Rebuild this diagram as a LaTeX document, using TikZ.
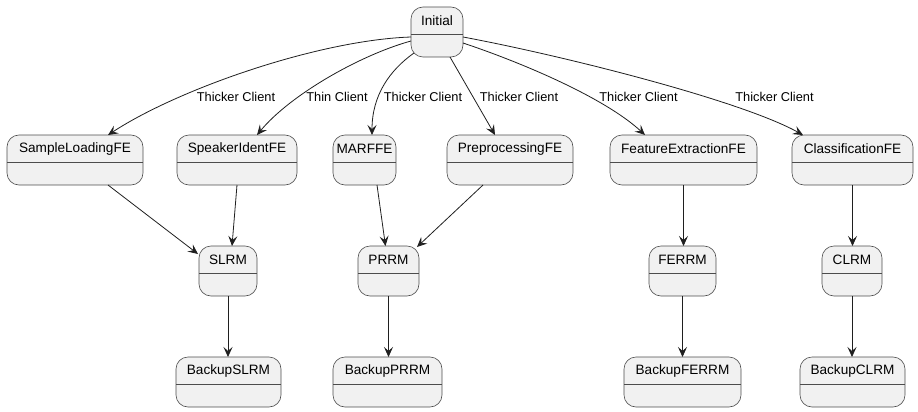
\documentclass[tikz,border=0pt]{standalone}
\usepackage{fontspec}
\setmainfont{Liberation Sans}
\usetikzlibrary{arrows.meta,calc}
\tikzset{
  st/.style={draw=black!70, fill=black!5.5, line width=0.6pt, rounded corners=12pt, inner sep=0pt, outer sep=0pt},
  stname/.style={font=\fontsize{13.6}{16}\selectfont, inner sep=0pt, anchor=center},
  divider/.style={draw=black!70, line width=0.6pt},
  edge/.style={draw=black!88, line width=0.8pt, -{Stealth[length=10pt,width=9pt,inset=4pt]}},
  elabel/.style={font=\fontsize{12.8}{15}\selectfont, inner sep=0pt},
}
\newcommand\stbox[6]{%
  \pgfmathsetmacro\stw{#4-#2}\pgfmathsetmacro\stcx{(#2+#4)/2}%
  \pgfmathsetmacro\sth{#5-#3}\pgfmathsetmacro\stcy{(#3+#5)/2}%
  \node[st, minimum width=\stw pt, minimum height=\sth pt] (#1) at (\stcx,\stcy) {};
  \draw[divider] ([yshift=-27pt]#1.north west) -- ([yshift=-27pt]#1.north east);
  \node[stname] (#1-t) at ([yshift=-13.5pt]#1.north) {#6};
}
\begin{document}
\begin{tikzpicture}[x=1pt,y=-1pt]
\useasboundingbox (0,0) rectangle (918,412);
\stbox{Initial}{411}{7}{463}{57}{Initial}
\stbox{SLFE}{7}{135}{143}{185}{SampleLoadingFE}
\stbox{SIFE}{177}{135}{297}{185}{SpeakerIdentFE}
\stbox{MARFFE}{333}{135}{396}{185}{MARFFE}
\stbox{PPFE}{447}{135}{573}{185}{PreprocessingFE}
\stbox{FEFE}{610}{135}{757}{185}{FeatureExtractionFE}
\stbox{CFE}{792}{135}{913}{185}{ClassificationFE}
\stbox{SLRM}{199}{246}{257}{296}{SLRM}
\stbox{PRRM}{358}{246}{419}{296}{PRRM}
\stbox{FERRM}{649}{246}{716}{296}{FERRM}
\stbox{CLRM}{822}{246}{882}{296}{CLRM}
\stbox{BSLRM}{176}{357}{281}{407}{BackupSLRM}
\stbox{BPRRM}{333}{357}{442}{407}{BackupPRRM}
\stbox{BFERRM}{624}{357}{741}{407}{BackupFERRM}
\stbox{BCLRM}{800}{357}{905}{407}{BackupCLRM}
% edges from Initial
\draw[edge] ($(Initial.north west)+(0,30)$) .. controls (320,40) and (180,88) .. ($(SLFE.north)+(33,0)$);
\draw[edge] ($(Initial.north west)+(0,34)$) .. controls (360,55) and (290,95) .. ($(SIFE.north)+(20,0)$);
\draw[edge] ($(Initial.south west)+(3,-4)$) .. controls (390,70) and (372,95) .. ($(MARFFE.north)+(7.5,0)$);
\draw[edge] ($(Initial.south west)+(39,0)$) -- ($(PPFE.north)+(-15,0)$);
\draw[edge] ($(Initial.north east)+(0,36)$) .. controls (523,63) and (605,98) .. ($(FEFE.north)+(-38.5,0)$);
\draw[edge] ($(Initial.north east)+(0,30)$) .. controls (560,55) and (740,100) .. ($(CFE.north)+(-49.5,0)$);
\node[elabel] (l1) at (236,97) {Thicker Client};
\node[elabel] (l2) at (337,97) {Thin Client};
\node[elabel] (l3) at (423,97) {Thicker Client};
\node[elabel] (l4) at (519,97) {Thicker Client};
\node[elabel] (l5) at (638.5,97) {Thicker Client};
\node[elabel] (l6) at (774.5,97) {Thicker Client};
% lower edges
\draw[edge] ($(SLFE.south)+(33,0)$) -- ($(SLRM.north west)+(-1,8)$);
\draw[edge] (SIFE.south) -- ($(SLRM.north)+(4,0)$);
\draw[edge] ($(MARFFE.south)+(12.5,0)$) -- ($(PRRM.north)+(-3,0)$);
\draw[edge] ($(PPFE.south)+(-27,0)$) -- ($(PRRM.north east)+(-2,1)$);
\draw[edge] (FEFE.south) -- (FEFE.south |- FERRM.north);
\draw[edge] (CFE.south) -- (CFE.south |- CLRM.north);
\draw[edge] (SLRM.south) -- (SLRM.south |- BSLRM.north);
\draw[edge] (PRRM.south) -- (PRRM.south |- BPRRM.north);
\draw[edge] (FERRM.south) -- (FERRM.south |- BFERRM.north);
\draw[edge] (CLRM.south) -- (CLRM.south |- BCLRM.north);
\end{tikzpicture}
\end{document}
